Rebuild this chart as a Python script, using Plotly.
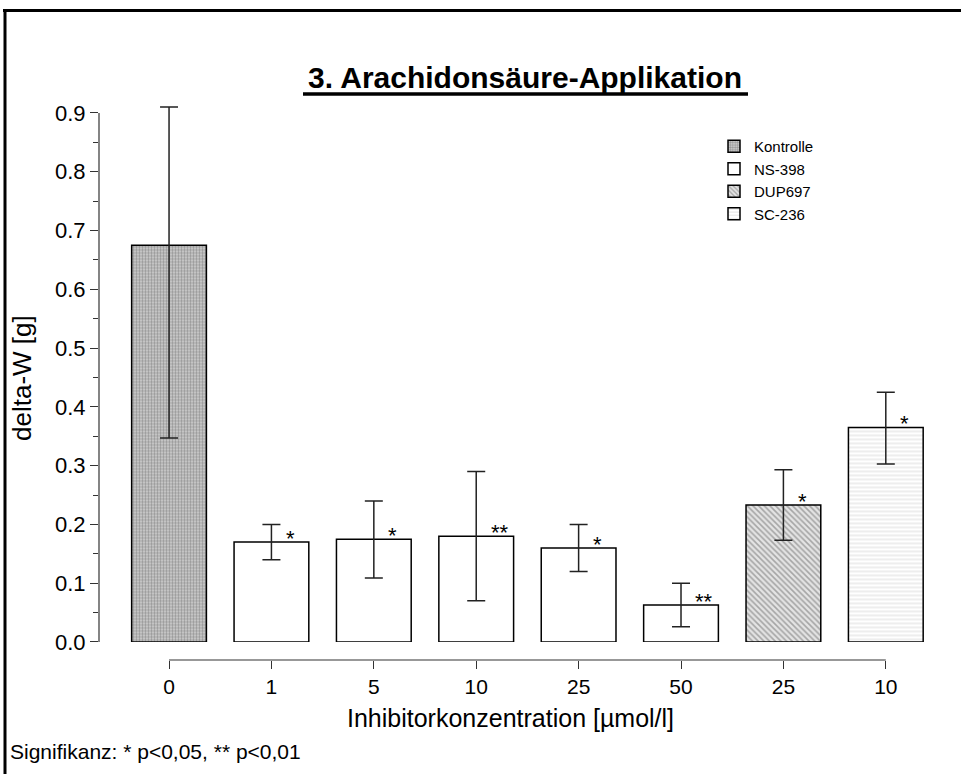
import plotly.graph_objects as go

# ---- data ----
tick_labels = ["0", "1", "5", "10", "25", "50", "25", "10"]
groups = ["Kontrolle", "NS-398", "NS-398", "NS-398", "NS-398", "NS-398", "DUP697", "SC-236"]
values = [0.675, 0.170, 0.175, 0.180, 0.160, 0.063, 0.233, 0.365]
err_plus = [0.235, 0.030, 0.065, 0.110, 0.040, 0.037, 0.060, 0.060]
err_minus = [0.328, 0.030, 0.066, 0.110, 0.040, 0.037, 0.060, 0.062]
signif = ["", "*", "*", "**", "*", "**", "*", "*"]
series_names = ["Kontrolle", "NS-398", "DUP697", "SC-236"]
y_ticks = [i / 10 for i in range(10)]
y_minor = [0.05 + i / 10 for i in range(9)]

FONT = "Arial, Liberation Sans, sans-serif"

styles = {
    "Kontrolle": dict(shape=".", size=3, solidity=0.5, fgcolor="#555555", bgcolor="#d4d4d4"),
    "NS-398": dict(shape="", fgcolor="#000000", bgcolor="#ffffff"),
    "DUP697": dict(shape="\\", size=4, solidity=0.4, fgcolor="#666666", bgcolor="#e4e4e4"),
    "SC-236": dict(shape="-", size=4, solidity=0.3, fgcolor="#c4c4c4", bgcolor="#ffffff"),
}

fig = go.Figure()
for name in series_names:
    idx = [i for i, g in enumerate(groups) if g == name]
    pat = styles[name]
    fig.add_trace(go.Bar(
        name=name,
        x=idx,
        y=[values[i] for i in idx],
        width=0.73,
        marker=dict(color="#ffffff", pattern=pat, line=dict(color="#000000", width=1.5)),
        error_y=dict(type="data", symmetric=False,
                     array=[err_plus[i] for i in idx],
                     arrayminus=[err_minus[i] for i in idx],
                     color="#222222", thickness=1.5, width=9),
    ))

# significance marks
for i, s in enumerate(signif):
    if s:
        fig.add_annotation(x=i + 0.12, y=values[i], text=s, showarrow=False,
                           xanchor="left", yanchor="bottom", yshift=-11,
                           font=dict(family=FONT, size=22, color="#000000"))

# geometry helpers (pixel -> paper)
L, R, T, B = 99, 26, 80, 60
W, H = 961, 774
pw, ph = W - L - R, H - T - B
def px(x):
    return (x - L) / pw
def py(y):
    return (H - B - y) / ph

Y_MAX = 0.94
unit = 587.8  # px per 1.0 on y
y_dom0 = py(642)
y_dom1 = py(642 - Y_MAX * unit)

fig.update_layout(
    width=W, height=H,
    margin=dict(l=L, r=R, t=T, b=B, autoexpand=False),
    paper_bgcolor="#ffffff", plot_bgcolor="#ffffff",
    barmode="overlay",
    font=dict(family=FONT, color="#000000"),
    showlegend=True,
    legend=dict(x=px(714), y=py(130), xanchor="left", yanchor="top",
                font=dict(family=FONT, size=15, color="#000000"),
                bgcolor="rgba(0,0,0,0)", tracegroupgap=0, itemwidth=30),
    xaxis=dict(
        range=[-0.684, (935 - 169) / 102.4],
        tickmode="array", tickvals=list(range(len(tick_labels))), ticktext=tick_labels,
        anchor="free", position=py(660),
        showline=False, showgrid=False, zeroline=False,
        ticks="outside", ticklen=8, tickwidth=1.2, tickcolor="#333333",
        tickfont=dict(family=FONT, size=21, color="#000000"),
    ),
    yaxis=dict(
        domain=[y_dom0, y_dom1], range=[0, Y_MAX],
        tickmode="array", tickvals=y_ticks, tickformat=".1f",
        showline=False, showgrid=False, zeroline=False,
        ticks="outside", ticklen=8, tickwidth=1.2, tickcolor="#333333",
        minor=dict(tickmode="array", tickvals=y_minor, ticks="outside", ticklen=5,
                   tickwidth=1.2, tickcolor="#333333", showgrid=False),
        tickfont=dict(family=FONT, size=22, color="#000000"),
    ),
)

# y-axis line from 0 to 0.9
fig.add_shape(type="line", xref="paper", yref="y", x0=0, x1=0, y0=y_ticks[0], y1=y_ticks[-1],
              line=dict(color="#333333", width=1.2))
# x-axis base line between first and last category
fig.add_shape(type="line", xref="x", yref="paper", x0=0, x1=len(tick_labels) - 1,
              y0=py(660), y1=py(660), line=dict(color="#333333", width=1.2))

# titles
fig.add_annotation(xref="paper", yref="paper", x=px(525), y=py(77), text="<b>3. Arachidonsäure-Applikation</b>",
                   showarrow=False, xanchor="center", yanchor="middle",
                   font=dict(family=FONT, size=30, color="#000000"))
fig.add_shape(type="line", xref="paper", yref="paper", x0=px(303), x1=px(748), y0=py(94), y1=py(94),
              line=dict(color="#000000", width=3.5))
fig.add_annotation(xref="paper", yref="paper", x=px(510), y=py(718), text="Inhibitorkonzentration [µmol/l]",
                   showarrow=False, xanchor="center", yanchor="middle",
                   font=dict(family=FONT, size=25, color="#000000"))
fig.add_annotation(xref="paper", yref="paper", x=px(22), y=py(378), text="delta-W [g]", textangle=-90,
                   showarrow=False, xanchor="center", yanchor="middle",
                   font=dict(family=FONT, size=26, color="#000000"))
fig.add_annotation(xref="paper", yref="paper", x=px(8), y=py(751), text="Signifikanz: * p<0,05, ** p<0,01",
                   showarrow=False, xanchor="left", yanchor="middle",
                   font=dict(family=FONT, size=21, color="#000000"))

# frame (top and left edges)
fig.add_shape(type="line", xref="paper", yref="paper", x0=px(3), x1=px(961), y0=py(10.5), y1=py(10.5),
              line=dict(color="#000000", width=3))
fig.add_shape(type="line", xref="paper", yref="paper", x0=px(5), x1=px(5), y0=py(9), y1=py(774),
              line=dict(color="#000000", width=3))

fig.write_html("out.html")
